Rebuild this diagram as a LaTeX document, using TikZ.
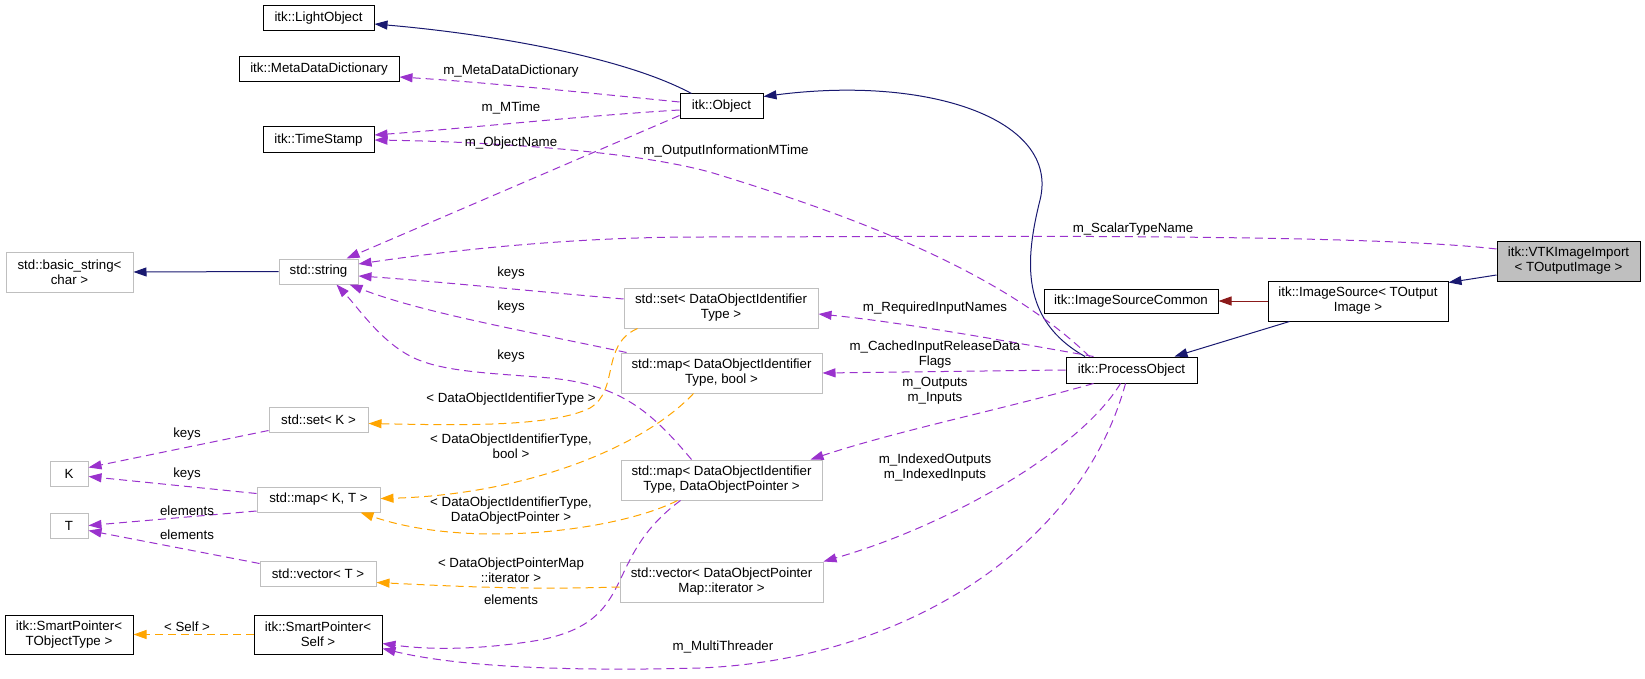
\documentclass[tikz,border=0pt]{standalone}
\usepackage{fontspec}
\setmainfont{Liberation Sans}
\usetikzlibrary{arrows.meta,calc}
\definecolor{navy}{HTML}{191970}
\definecolor{purp}{HTML}{9A32CD}
\definecolor{orng}{HTML}{FFA500}
\definecolor{dred}{HTML}{8B1A1A}
\definecolor{gry}{HTML}{BFBFBF}
\begin{document}
\begin{tikzpicture}[x=1pt,y=-1pt,
  font=\fontsize{13.3}{15}\selectfont,
  box/.style={draw=black,line width=1pt,align=center,inner sep=0pt,anchor=center},
  gbox/.style={box,draw=gry},
  lbl/.style={align=center,inner sep=0pt},
  tip/.style={-{Triangle[length=13pt,width=9pt]}},
  inh/.style={tip,draw=navy,line width=1pt},
  usage/.style={tip,draw=purp,line width=1pt,dash pattern=on 8pt off 5pt},
  tmpl/.style={tip,draw=orng,line width=1pt,dash pattern=on 8pt off 5pt},
  priv/.style={tip,draw=dred,line width=1pt}
]
\useasboundingbox (0,0) rectangle (1645,679);

% nodes
\node[box,minimum width=111pt,minimum height=25pt] (light) at (318.5,18.5) {itk::LightObject};
\node[box,minimum width=160pt,minimum height=25pt] (mdd) at (319,69.5) {itk::MetaDataDictionary};
\node[box,minimum width=111pt,minimum height=26pt] (ts) at (318.5,140) {itk::TimeStamp};
\node[box,minimum width=83pt,minimum height=25pt] (obj) at (721.5,106.5) {itk::Object};
\node[gbox,minimum width=127pt,minimum height=40pt] (bstr) at (69.5,272) {std::basic\_string<\\char >};
\node[gbox,minimum width=79pt,minimum height=25pt] (str) at (318.5,271.5) {std::string};
\node[gbox,minimum width=99pt,minimum height=25pt] (setk) at (318.5,419.5) {std::set< K >};
\node[gbox,minimum width=38pt,minimum height=25pt] (K) at (69,473.5) {K};
\node[gbox,minimum width=38pt,minimum height=25pt] (T) at (69,525.5) {T};
\node[gbox,minimum width=123pt,minimum height=25pt] (mapkt) at (318.5,499.5) {std::map< K, T >};
\node[gbox,minimum width=116pt,minimum height=25pt] (vect) at (318,573.5) {std::vector< T >};
\node[box,minimum width=128pt,minimum height=39pt] (spto) at (69,634.5) {itk::SmartPointer<\\TObjectType >};
\node[box,minimum width=128pt,minimum height=39pt] (sps) at (318,634.5) {itk::SmartPointer<\\Self >};
\node[gbox,minimum width=194pt,minimum height=40pt] (setdoi) at (721,308) {std::set< DataObjectIdentifier\\Type >};
\node[gbox,minimum width=201pt,minimum height=40pt] (mapbool) at (721.5,373) {std::map< DataObjectIdentifier\\Type, bool >};
\node[gbox,minimum width=201pt,minimum height=40pt] (mapdop) at (721.5,480) {std::map< DataObjectIdentifier\\Type, DataObjectPointer >};
\node[gbox,minimum width=203pt,minimum height=40pt] (vecit) at (721.5,582) {std::vector< DataObjectPointer\\Map::iterator >};
\node[box,minimum width=131pt,minimum height=26pt] (po) at (1131.5,370) {itk::ProcessObject};
\node[box,minimum width=174pt,minimum height=24pt] (isc) at (1131,301) {itk::ImageSourceCommon};
\node[box,minimum width=180pt,minimum height=40pt] (is) at (1358,301) {itk::ImageSource< TOutput\\Image >};
\node[box,fill=gry,minimum width=143pt,minimum height=40pt] (vtk) at (1568.5,261) {itk::VTKImageImport\\< TOutputImage >};

% inheritance edges
\draw[inh] ($(obj.north)+(-30,0)$) .. controls (620,55) and (480,33) .. ($(light.east)+(0,5.5)$);
\draw[inh] ($(po.north)+(-46.5,0)$) .. controls (1020,320) and (1025,260) .. (1040,200)
   .. controls (1060,120) and (930,75) .. ($(obj.north east)+(0,3)$);
\draw[inh] ($(vtk.west)+(0,14)$) -- ($(is.north east)+(0,2)$);
\draw[inh] ($(is.south west)+(22,0)$) -- ($(po.north)+(43,0)$);
\draw[priv] (is.west) -- (isc.east);
\draw[inh] (str.west) -- (bstr.east);
\draw[tmpl] (sps.west) -- (spto.east);

% usage edges
\draw[usage] ($(obj.west)+(0,-4.5)$) .. controls (580,92) and (480,82) .. ($(mdd.east)+(0,7.5)$);
\draw[usage] ($(obj.west)+(0,3.5)$) .. controls (580,116) and (470,128) .. ($(ts.east)+(0,-5)$);
\draw[usage] ($(po.north)+(-42,0)$) .. controls (1000,270) and (850,215) .. (713,173)
   .. controls (640,152) and (500,142) .. ($(ts.east)+(0,0)$);
\draw[usage] ($(obj.west)+(0,9)$) -- ($(str.north east)+(-12,0)$);
\draw[usage] ($(vtk.west)+(0,-12)$) .. controls (1350,232) and (900,237) .. (700,237)
   .. controls (550,237) and (420,255) .. ($(str.east)+(0,-7.5)$);
\draw[usage] ($(setdoi.west)+(0,-9)$) .. controls (520,290) and (420,280) .. ($(str.east)+(0,4.5)$);
\draw[usage] ($(mapbool.north west)+(6,0)$) .. controls (520,330) and (420,312) .. ($(str.south east)+(-9,0)$);
\draw[usage] ($(mapdop.north west)+(71,0)$) .. controls (650,410) and (620,385) .. (550,378)
   .. controls (490,373) and (440,372) .. (410,356) .. controls (380,340) and (360,310) .. ($(str.south)+(18,0)$);
\draw[usage] ($(po.north)+(-38,0)$) .. controls (1000,340) and (900,322) .. ($(setdoi.east)+(0,6)$);
\draw[usage] (po.west) -- (mapbool.east);
\draw[usage] ($(po.south)+(-38,0)$) .. controls (1000,410) and (900,430) .. ($(mapdop.north east)+(-12,0)$);
\draw[usage] ($(po.south)+(-11,0)$) .. controls (1080,450) and (950,525) .. ($(vecit.north east)+(0,0)$);
\draw[usage] ($(po.south)+(-6,0)$) .. controls (1080,550) and (900,660) .. (700,668)
   .. controls (550,672) and (450,665) .. ($(sps.east)+(0,14)$);
\draw[usage] ($(mapdop.south)+(-41,0)$) .. controls (600,560) and (640,620) .. (540,640)
   .. controls (480,650) and (430,650) .. ($(sps.east)+(0,9)$);
\draw[usage] ($(setk.west)+(0,11)$) -- ($(K.east)+(0,-6)$);
\draw[usage] ($(mapkt.west)+(0,-6)$) -- ($(K.east)+(0,3)$);
\draw[usage] ($(mapkt.west)+(0,11.5)$) -- (T.east);
\draw[usage] ($(vect.west)+(0,-10)$) -- ($(T.east)+(0,5)$);

% template edges
\draw[tmpl] ($(setdoi.south west)+(14,0)$) .. controls (600,345) and (620,390) .. (590,408)
   .. controls (550,428) and (450,425) .. ($(setk.east)+(0,4)$);
\draw[tmpl] ($(mapbool.south)+(-28,0)$) .. controls (640,450) and (520,495) .. ($(mapkt.east)+(0,-1)$);
\draw[tmpl] ($(mapdop.south)+(-44,0)$) .. controls (620,530) and (470,550) .. ($(mapkt.south east)+(-20,0)$);
\draw[tmpl] ($(vecit.west)+(0,5)$) .. controls (520,590) and (450,586) .. ($(vect.east)+(0,9)$);

% labels
\node[lbl] (l1) at (511,71) {m\_MetaDataDictionary};
\node[lbl] (l2) at (511,108) {m\_MTime};
\node[lbl] (l3) at (511,143) {m\_ObjectName};
\node[lbl] (l4) at (726,151) {m\_OutputInformationMTime};
\node[lbl] (l5) at (1133,229) {m\_ScalarTypeName};
\node[lbl] (l6) at (511,273) {keys};
\node[lbl] (l7) at (511,307) {keys};
\node[lbl] (l8) at (511,356) {keys};
\node[lbl] (l9) at (511,399) {< DataObjectIdentifierType >};
\node[lbl] (l10) at (511,446) {< DataObjectIdentifierType,\\bool >};
\node[lbl] (l11) at (511,511) {< DataObjectIdentifierType,\\DataObjectPointer >};
\node[lbl] (l12) at (511,570) {< DataObjectPointerMap\\::iterator >};
\node[lbl] (l13) at (511,600) {elements};
\node[lbl] (l14) at (723,647) {m\_MultiThreader};
\node[lbl] (l15) at (935,308) {m\_RequiredInputNames};
\node[lbl] (l16) at (935,355) {m\_CachedInputReleaseData\\Flags};
\node[lbl] (l17) at (935,391) {m\_Outputs\\m\_Inputs};
\node[lbl] (l18) at (935,468) {m\_IndexedOutputs\\m\_IndexedInputs};
\node[lbl] (l19) at (187,434) {keys};
\node[lbl] (l20) at (187,474) {keys};
\node[lbl] (l21) at (187,511) {elements};
\node[lbl] (l22) at (187,535) {elements};
\node[lbl] (l23) at (187,627) {< Self >};
\end{tikzpicture}
\end{document}
